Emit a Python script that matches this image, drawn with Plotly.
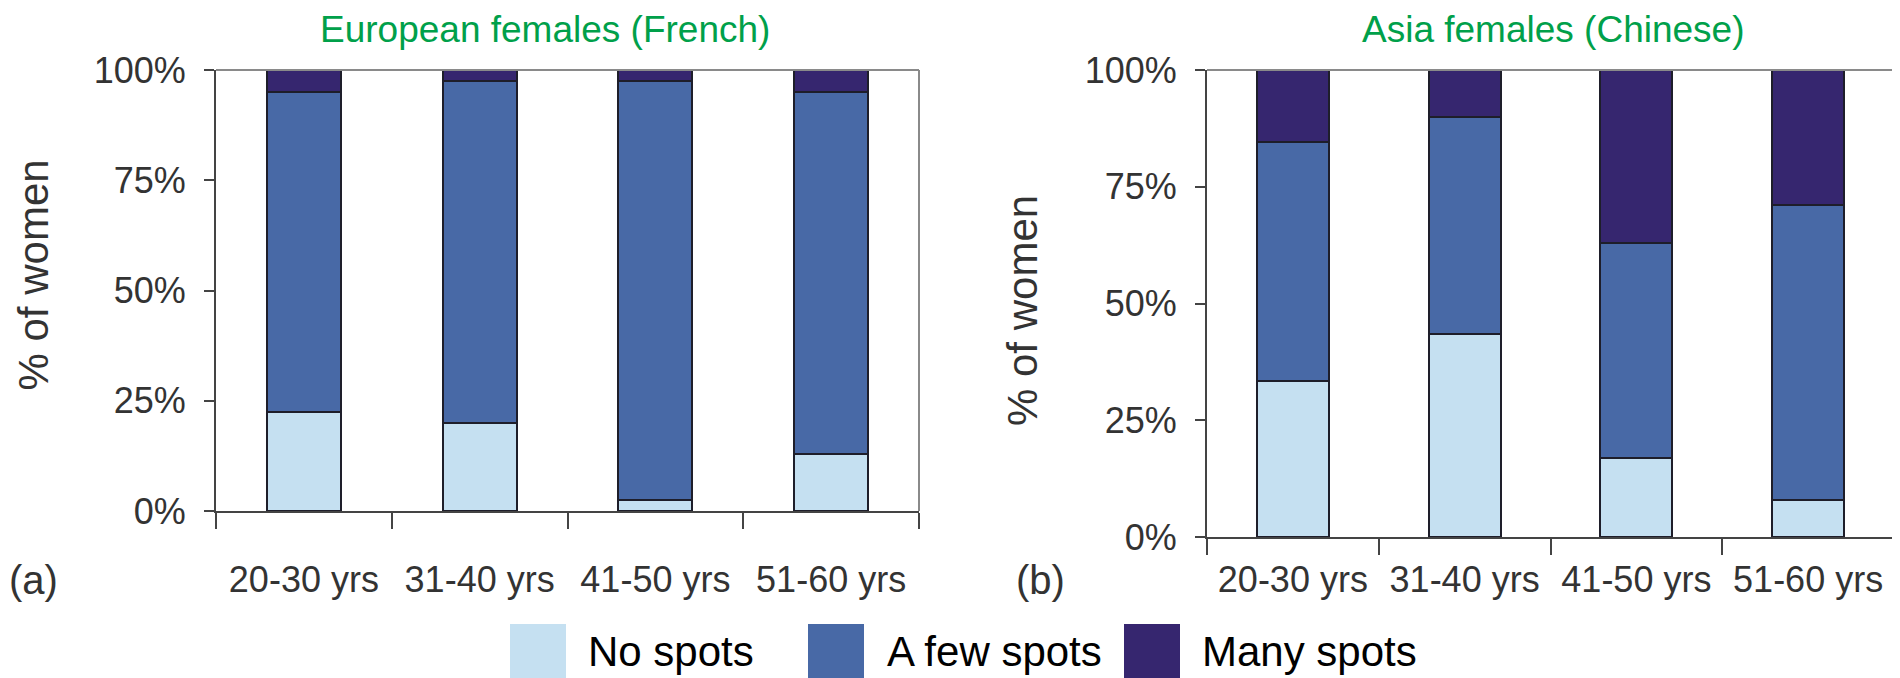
"""Stacked bars: share of women with facial spots, by age group, two panels."""
import plotly.graph_objects as go

AGE_GROUPS = ["20-30 yrs", "31-40 yrs", "41-50 yrs", "51-60 yrs"]
SERIES = ["No spots", "A few spots", "Many spots"]

# percentages per panel, bottom to top
FRENCH_NO = [22.5, 20.0, 2.5, 13.0]
FRENCH_FEW = [72.5, 77.5, 95.0, 82.0]
FRENCH_MANY = [5.0, 2.5, 2.5, 5.0]

CHINESE_NO = [33.5, 43.5, 17.0, 8.0]
CHINESE_FEW = [51.0, 46.5, 46.0, 63.0]
CHINESE_MANY = [15.5, 10.0, 37.0, 29.0]

Y_TICKS = [0, 25, 50, 75, 100]
Y_TICK_LABELS = ["0%", "25%", "50%", "75%", "100%"]
PANEL_TITLES = ["European females (French)", "Asia females (Chinese)"]
PANEL_TAGS = ["(a)", "(b)"]

COLORS = ["#c5e0f1", "#4869a6", "#36266f"]
OUTLINE = "#1e1e2a"
TITLE_GREEN = "#00a04a"
FONT = "Liberation Sans, Arial, sans-serif"

W, H = 1900, 678
PAGE_OFFSET = 8  # the page body margin shifts the figure by this much


def px(x):
    return (x - PAGE_OFFSET) / W


def py(y):
    return 1 - (y - PAGE_OFFSET) / H


fig = go.Figure()

panels = [
    (FRENCH_NO, FRENCH_FEW, FRENCH_MANY),
    (CHINESE_NO, CHINESE_FEW, CHINESE_MANY),
]
for i, values in enumerate(panels):
    xa = "x" if i == 0 else "x2"
    ya = "y" if i == 0 else "y2"
    for name, vals, color in zip(SERIES, values, COLORS):
        fig.add_trace(go.Bar(
            x=AGE_GROUPS, y=vals, name=name,
            marker=dict(color=color, line=dict(color=OUTLINE, width=2)),
            xaxis=xa, yaxis=ya, showlegend=False,
        ))

# ── Axes ─────────────────────────────────────────────────────────────────────
axis_font = dict(family=FONT, size=36, color="#333333")
common_y = dict(
    range=[0, 100], tickmode="array", tickvals=Y_TICKS, ticktext=Y_TICK_LABELS,
    ticks="outside", ticklen=10, tickcolor="#444444", tickwidth=2,
    showline=True, linecolor="#444444", linewidth=2,
    showgrid=False, zeroline=False, tickfont=axis_font,
    ticklabelstandoff=11, automargin=False,
)
common_x = dict(
    type="category", tickson="boundaries",
    ticks="outside", ticklen=16, tickcolor="#444444", tickwidth=2,
    showline=True, linecolor="#444444", linewidth=2,
    showgrid=False, tickfont=axis_font, automargin=False,
)

fig.update_layout(
    xaxis=dict(domain=[px(216), px(919)], anchor="y",
               ticklabelstandoff=36, **common_x),
    yaxis=dict(domain=[py(511), py(70)], anchor="x", **common_y),
    xaxis2=dict(domain=[px(1207), px(1894)], anchor="y2",
                ticklabelstandoff=10, **common_x),
    yaxis2=dict(domain=[py(537), py(70)], anchor="x2", **common_y),
)

# top / right frame lines in light gray
for xr, yr in (("x", "y"), ("x2", "y2")):
    fig.add_shape(type="line", xref=f"{xr} domain", yref=f"{yr} domain",
                  x0=0, x1=1, y0=1, y1=1, line=dict(color="#8a8a8a", width=2))
    fig.add_shape(type="line", xref=f"{xr} domain", yref=f"{yr} domain",
                  x0=1, x1=1, y0=0, y1=1, line=dict(color="#8a8a8a", width=2))

# ── Titles, panel tags, y-axis titles ────────────────────────────────────────
for text, cx in zip(PANEL_TITLES, [545, 1553]):
    fig.add_annotation(x=px(cx), y=1, xref="paper", yref="paper",
                       text=text, showarrow=False, xanchor="center", yanchor="top",
                       borderpad=0,
                       font=dict(family=FONT, size=37, color=TITLE_GREEN))

for text, cx in zip(PANEL_TAGS, [33, 1040]):
    fig.add_annotation(x=px(cx), y=py(580), xref="paper", yref="paper",
                       text=text, showarrow=False, xanchor="center", yanchor="middle",
                       font=dict(family=FONT, size=40, color="#333333"))

fig.add_annotation(x=0, y=py(275), xref="paper", yref="paper",
                   text="% of women", textangle=-90, showarrow=False,
                   xanchor="left", yanchor="middle", borderpad=0,
                   font=dict(family=FONT, size=42, color="#333333"))
fig.add_annotation(x=px(1023), y=py(311), xref="paper", yref="paper",
                   text="% of women", textangle=-90, showarrow=False,
                   xanchor="center", yanchor="middle",
                   font=dict(family=FONT, size=42, color="#333333"))

# ── Legend (large swatches, drawn by hand) ───────────────────────────────────
for name, color, bx, tx in zip(SERIES, COLORS, [510, 808, 1124], [586, 885, 1200]):
    fig.add_shape(type="rect", xref="paper", yref="paper",
                  x0=px(bx), x1=px(bx + 56), y0=py(678), y1=py(624),
                  fillcolor=color, line=dict(width=0))
    fig.add_annotation(x=px(tx), y=py(651), xref="paper", yref="paper",
                       text=name, showarrow=False, xanchor="left", yanchor="middle",
                       font=dict(family=FONT, size=42, color="#000000"))

fig.update_layout(
    width=W, height=H,
    barmode="stack", bargap=0.58,
    margin=dict(l=0, r=0, t=0, b=0, pad=0, autoexpand=False),
    plot_bgcolor="white", paper_bgcolor="white",
    showlegend=False,
)

fig.write_html("out.html")
